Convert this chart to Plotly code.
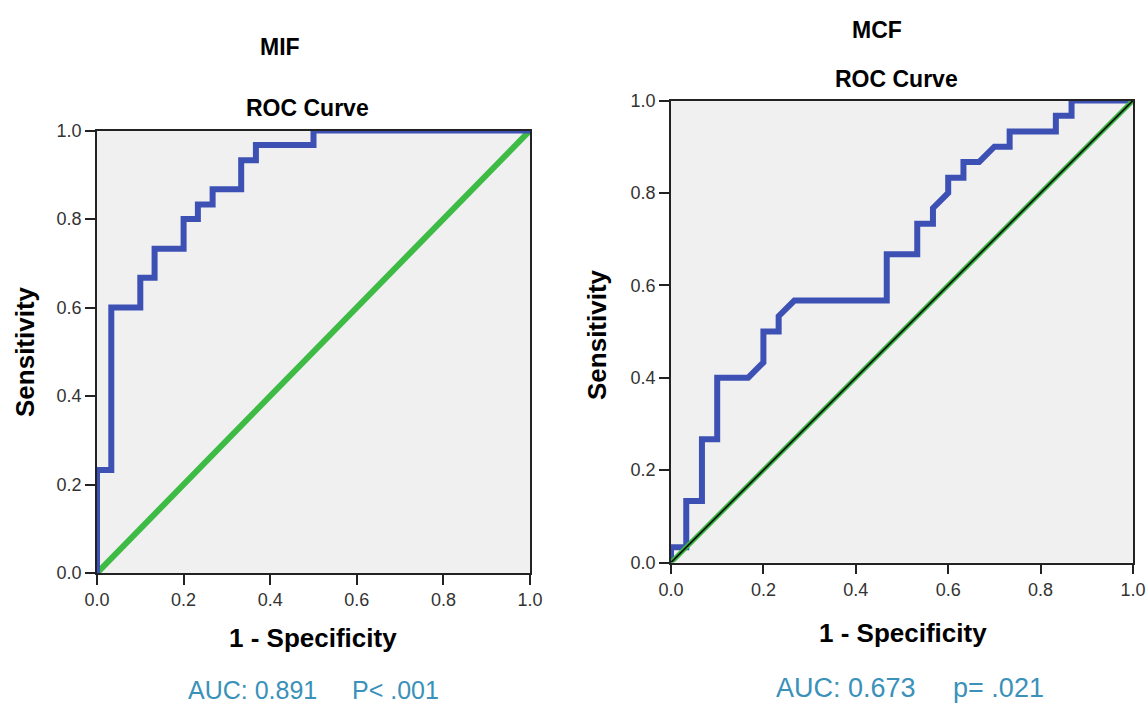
import plotly.graph_objects as go

# ---- Data ----
mif_fpr = [0, 0, 0.033, 0.033, 0.1, 0.1, 0.133, 0.133, 0.2, 0.2, 0.233, 0.233,
           0.267, 0.267, 0.333, 0.333, 0.367, 0.367, 0.5, 0.5, 1.0]
mif_tpr = [0, 0.233, 0.233, 0.6, 0.6, 0.667, 0.667, 0.733, 0.733, 0.8, 0.8, 0.833,
           0.833, 0.867, 0.867, 0.933, 0.933, 0.967, 0.967, 1.0, 1.0]

mcf_fpr = [0, 0, 0.033, 0.033, 0.067, 0.067, 0.1, 0.1, 0.167, 0.2, 0.2, 0.233, 0.233,
           0.267, 0.467, 0.467, 0.533, 0.533, 0.567, 0.567, 0.6, 0.6, 0.633, 0.633,
           0.667, 0.7, 0.733, 0.733, 0.833, 0.833, 0.867, 0.867, 1.0]
mcf_tpr = [0, 0.033, 0.033, 0.133, 0.133, 0.267, 0.267, 0.4, 0.4, 0.433, 0.5, 0.5, 0.533,
           0.567, 0.567, 0.667, 0.667, 0.733, 0.733, 0.767, 0.8, 0.833, 0.833, 0.867,
           0.867, 0.9, 0.9, 0.933, 0.933, 0.967, 0.967, 1.0, 1.0]

ref_line = [0, 1]
tick_vals = [0, 0.2, 0.4, 0.6, 0.8, 1.0]
tick_text = ["0.0", "0.2", "0.4", "0.6", "0.8", "1.0"]

titles = ["MIF", "MCF"]
subtitle = "ROC Curve"
x_title = "1 - Specificity"
y_title = "Sensitivity"
auc_texts = ["AUC: 0.891\u00a0\u00a0\u00a0\u00a0\u00a0P< .001",
             "AUC: 0.673\u00a0\u00a0\u00a0\u00a0\u00a0p= .021"]

# ---- Styles ----
W, H = 1148, 703
BLUE = "#3D51B4"
GREEN = "#3DBB45"
AUC_COLOR = "#3A91B9"
FONT = "Liberation Sans, Arial, sans-serif"

fig = go.Figure()

# Left (MIF)
fig.add_trace(go.Scatter(x=ref_line, y=ref_line, mode="lines",
                         line=dict(color=GREEN, width=6), xaxis="x", yaxis="y",
                         showlegend=False, hoverinfo="skip"))
fig.add_trace(go.Scatter(x=mif_fpr, y=mif_tpr, mode="lines",
                         line=dict(color=BLUE, width=6), xaxis="x", yaxis="y",
                         showlegend=False))

# Right (MCF)
fig.add_trace(go.Scatter(x=mcf_fpr, y=mcf_tpr, mode="lines",
                         line=dict(color=BLUE, width=6), xaxis="x2", yaxis="y2",
                         showlegend=False))
fig.add_trace(go.Scatter(x=ref_line, y=ref_line, mode="lines",
                         line=dict(color=GREEN, width=5), xaxis="x2", yaxis="y2",
                         showlegend=False, hoverinfo="skip"))
fig.add_trace(go.Scatter(x=ref_line, y=ref_line, mode="lines",
                         line=dict(color="#111111", width=1.8), xaxis="x2", yaxis="y2",
                         showlegend=False, hoverinfo="skip"))

axis_common = dict(range=[0, 1], tickmode="array", tickvals=tick_vals, ticktext=tick_text,
                   showgrid=False, zeroline=False, showline=True, linecolor="#222222",
                   linewidth=1.5, mirror=True, ticks="outside", ticklen=10, tickwidth=1.5,
                   automargin=False,
                   tickcolor="#222222", tickfont=dict(family=FONT, size=18, color="#333333"))

def px_x(p):
    return p / W

def px_y(p):
    return 1 - p / H

fig.update_layout(
    width=W, height=H,
    autosize=False,
    margin=dict(l=0, r=0, t=0, b=0, pad=0, autoexpand=False),
    paper_bgcolor="white",
    plot_bgcolor="#F0F0F0",
    font=dict(family=FONT),
    xaxis=dict(domain=[px_x(97), px_x(530)], anchor="y", **axis_common),
    yaxis=dict(domain=[px_y(573), px_y(130.5)], anchor="x", **axis_common),
    xaxis2=dict(domain=[px_x(671), px_x(1133)], anchor="y2", **axis_common),
    yaxis2=dict(domain=[px_y(562.5), px_y(100.5)], anchor="x2", **axis_common),
)

ann = []
def add_text(text, cx, cy, size, bold=True, color="black", angle=0):
    t = f"<b>{text}</b>" if bold else text
    ann.append(dict(text=t, x=px_x(cx), y=px_y(cy), xref="paper", yref="paper",
                    xanchor="center", yanchor="middle", showarrow=False, textangle=angle,
                    font=dict(family=FONT, size=size, color=color)))

# Left panel texts
add_text(titles[0], 280, 47, 23)
add_text(subtitle, 307, 108, 23)
add_text(y_title, 25, 352, 26, angle=-90)
add_text(x_title, 313, 638, 26)
add_text(auc_texts[0], 314, 690, 25, bold=False, color=AUC_COLOR)

# Right panel texts
add_text(titles[1], 877, 30, 23)
add_text(subtitle, 896, 79, 23)
add_text(y_title, 597, 335, 26, angle=-90)
add_text(x_title, 903, 633, 26)
add_text(auc_texts[1], 910, 688, 27, bold=False, color=AUC_COLOR)

fig.update_layout(annotations=ann)

fig.write_html(
    "out.html",
    config={"responsive": False, "displayModeBar": False},
    post_script="document.body.style.margin='0';document.body.style.padding='0';"
                "document.body.style.overflow='hidden';"
                "document.documentElement.style.overflow='hidden';",
)
